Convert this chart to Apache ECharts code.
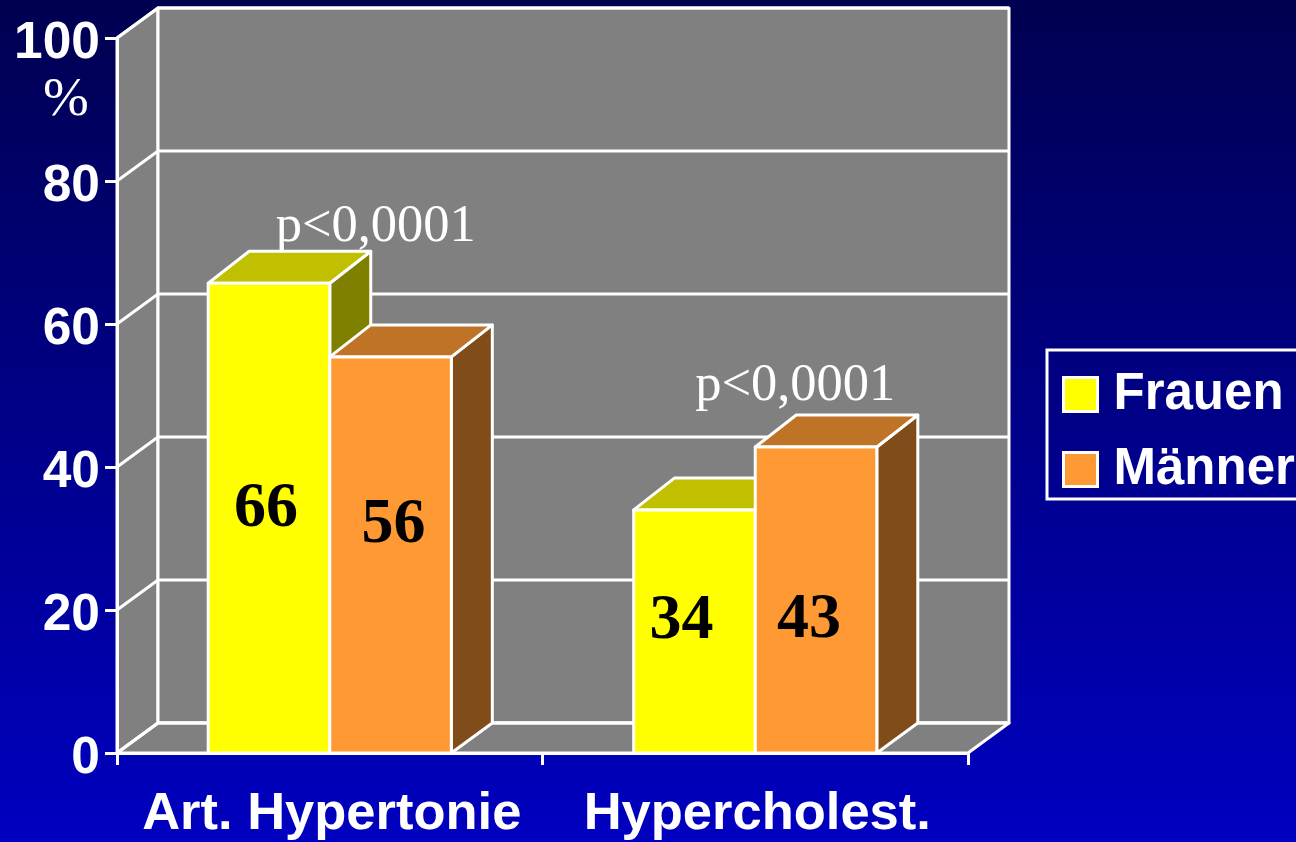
<!DOCTYPE html>
<html>
<head>
<meta charset="utf-8">
<style>
html, body { margin: 0; padding: 0; background: #000080; overflow: hidden; }
#main { width: 1296px; height: 842px; }
</style>
<script src="https://cdn.jsdelivr.net/npm/echarts@6/dist/echarts.min.js"></script>
</head>
<body>
<div id="main"></div>
<script>
//图表数据
var categories = ['Art. Hypertonie', 'Hypercholest.'];
var frauenValues = [65.7, 34];
var maennerValues = [55.4, 42.8];
var frauenLabels = ['66', '34'];
var maennerLabels = ['56', '43'];
var yTicks = [0, 20, 40, 60, 80, 100];
var pLabels = ['p<0,0001', 'p<0,0001'];
var pLabelHeights = [73.5, 51.3];

//立体效果参数
var depthX = 41;
var depthY = -30;
var barDepthY = -32;
var barRatio = 0.2857;
var lineWhite = '#ffffff';
//数值标签相对柱子正面中心的偏移
var frauenLabelOffset = [[-3, -9], [-13, -10]];
var maennerLabelOffset = [[3, -29], [-7, 20]];

var toPairs = function(values) {
	return values.map(function(v, i) {
		return [i, v];
	});
};

var poly = function(points, fill) {
	return {
		type: 'polygon',
		shape: { points: points },
		style: { fill: fill, stroke: lineWhite, lineWidth: 3, lineJoin: 'round' }
	};
};

//三维柱子: 正面, 顶面, 侧面
var barRenderer = function(side, front, top, dark, labels, labelOffset) {
	return function(params, api) {
		var idx = api.value(0);
		var val = api.value(1);
		var p = api.coord([idx, val]);
		var base = api.coord([idx, 0]);
		var w = api.size([1, 0])[0] * barRatio;
		var x0 = side < 0 ? p[0] - w : p[0];
		var x1 = x0 + w;
		var y0 = p[1];
		var y1 = base[1];
		var off = labelOffset[params.dataIndex];
		return {
			type: 'group',
			children: [
				poly([[x1, y0], [x1 + depthX, y0 + barDepthY], [x1 + depthX, y1 + depthY], [x1, y1]], dark),
				poly([[x0, y0], [x0 + depthX, y0 + barDepthY], [x1 + depthX, y0 + barDepthY], [x1, y0]], top),
				poly([[x0, y0], [x1, y0], [x1, y1], [x0, y1]], front),
				{
					type: 'text',
					style: {
						text: labels[params.dataIndex],
						x: (x0 + x1) / 2 + off[0],
						y: (y0 + y1) / 2 + off[1],
						align: 'center',
						verticalAlign: 'middle',
						fill: '#000000',
						font: 'bold 64px "Liberation Serif"'
					}
				}
			]
		};
	};
};

//背景墙和底面
var wallRenderer = function(params, api) {
	var g = params.coordSys;
	var left = g.x;
	var right = g.x + g.width;
	var yTop = g.y;
	var yBottom = g.y + g.height;
	return {
		type: 'group',
		children: [
			poly([[left, yTop], [left + depthX, yTop + depthY], [left + depthX, yBottom + depthY], [left, yBottom]], '#808080'),
			poly([[left + depthX, yTop + depthY], [right + depthX, yTop + depthY], [right + depthX, yBottom + depthY], [left + depthX, yBottom + depthY]], '#808080'),
			poly([[left, yBottom], [left + depthX, yBottom + depthY], [right + depthX, yBottom + depthY], [right, yBottom]], '#808080')
		]
	};
};

//网格线和纵轴刻度文字
var gridRenderer = function(params, api) {
	var g = params.coordSys;
	var v = api.value(0);
	var y = api.coord([0, v])[1];
	return {
		type: 'group',
		children: [{
			type: 'polyline',
			shape: {
				points: [[g.x, y], [g.x + depthX, y + depthY], [g.x + g.width + depthX, y + depthY]]
			},
			style: { fill: null, stroke: lineWhite, lineWidth: 3 }
		}, {
			type: 'text',
			style: {
				text: String(v),
				x: g.x - 17,
				y: y + 6,
				align: 'right',
				verticalAlign: 'middle',
				fill: '#ffffff',
				font: 'bold 51.5px "Liberation Sans"'
			}
		}]
	};
};

var pLabelRenderer = function(params, api) {
	var p = api.coord([api.value(0), api.value(1)]);
	return {
		type: 'text',
		style: {
			text: pLabels[params.dataIndex],
			x: p[0] + (params.dataIndex == 0 ? 46 : 40),
			y: p[1],
			align: 'center',
			verticalAlign: 'middle',
			fill: '#ffffff',
			font: '52.5px "Liberation Serif"'
		}
	};
};

var chart = echarts.init(document.getElementById('main'));
chart.setOption({
	animation: false,
	backgroundColor: {
		type: 'linear',
		x: 0, y: 0, x2: 0, y2: 1,
		colorStops: [
			{ offset: 0, color: '#000050' },
			{ offset: 1, color: '#0000c0' }
		]
	},
	color: ['#ffff00', '#ff9933'],
	grid: {
		left: 117,
		right: 328,
		top: 38,
		bottom: 89
	},
	legend: {
		data: ['Frauen', 'Männer'],
		orient: 'vertical',
		left: 1047,
		top: 350,
		align: 'left',
		padding: [19, 15, 4, 15],
		itemWidth: 34,
		itemHeight: 34,
		itemGap: 24,
		icon: 'rect',
		selectedMode: false,
		borderColor: '#ffffff',
		borderWidth: 3,
		itemStyle: { borderColor: '#ffffff', borderWidth: 3 },
		textStyle: {
			color: '#ffffff',
			fontFamily: 'Liberation Sans',
			fontWeight: 'bold',
			fontSize: 51,
			padding: [0, 0, 0, 11]
		}
	},
	graphic: [{
		type: 'text',
		left: 43,
		top: 73,
		style: {
			text: '%',
			fill: '#ffffff',
			font: '55px "Liberation Serif"'
		}
	}],
	xAxis: {
		type: 'category',
		data: categories,
		z: 10,
		axisLine: { lineStyle: { color: lineWhite, width: 3 } },
		axisTick: { show: true, length: 12, lineStyle: { color: lineWhite, width: 3 } },
		axisLabel: {
			color: '#ffffff',
			fontFamily: 'Liberation Sans',
			fontWeight: 'bold',
			fontSize: 52.5,
			margin: 35,
			padding: [0, 0, 0, 4],
			interval: 0
		}
	},
	yAxis: {
		type: 'value',
		min: 0,
		max: 100,
		interval: 20,
		z: 10,
		splitLine: { show: false },
		axisLine: { show: true, lineStyle: { color: lineWhite, width: 3 } },
		axisTick: { show: true, length: 12, lineStyle: { color: lineWhite, width: 3 } },
		axisLabel: { show: false }
	},
	series: [{
		name: 'wall',
		type: 'custom',
		coordinateSystem: 'cartesian2d',
		renderItem: wallRenderer,
		encode: { x: 0, y: 1 },
		data: [[0, 0]],
		silent: true,
		z: 1
	}, {
		name: 'grid',
		type: 'custom',
		coordinateSystem: 'cartesian2d',
		renderItem: gridRenderer,
		encode: { y: 0 },
		data: yTicks.map(function(v) { return [v]; }),
		silent: true,
		z: 2
	}, {
		name: 'Frauen',
		type: 'custom',
		coordinateSystem: 'cartesian2d',
		renderItem: barRenderer(-1, '#ffff00', '#c0c000', '#808000', frauenLabels, frauenLabelOffset),
		encode: { x: 0, y: 1 },
		itemStyle: { color: '#ffff00' },
		data: toPairs(frauenValues),
		z: 3
	}, {
		name: 'Männer',
		type: 'custom',
		coordinateSystem: 'cartesian2d',
		renderItem: barRenderer(1, '#ff9933', '#bf7326', '#804d1a', maennerLabels, maennerLabelOffset),
		encode: { x: 0, y: 1 },
		itemStyle: { color: '#ff9933' },
		data: toPairs(maennerValues),
		z: 4
	}, {
		name: 'p',
		type: 'custom',
		coordinateSystem: 'cartesian2d',
		renderItem: pLabelRenderer,
		encode: { x: 0, y: 1 },
		data: toPairs(pLabelHeights),
		silent: true,
		z: 5
	}]
});
</script>
</body>
</html>
